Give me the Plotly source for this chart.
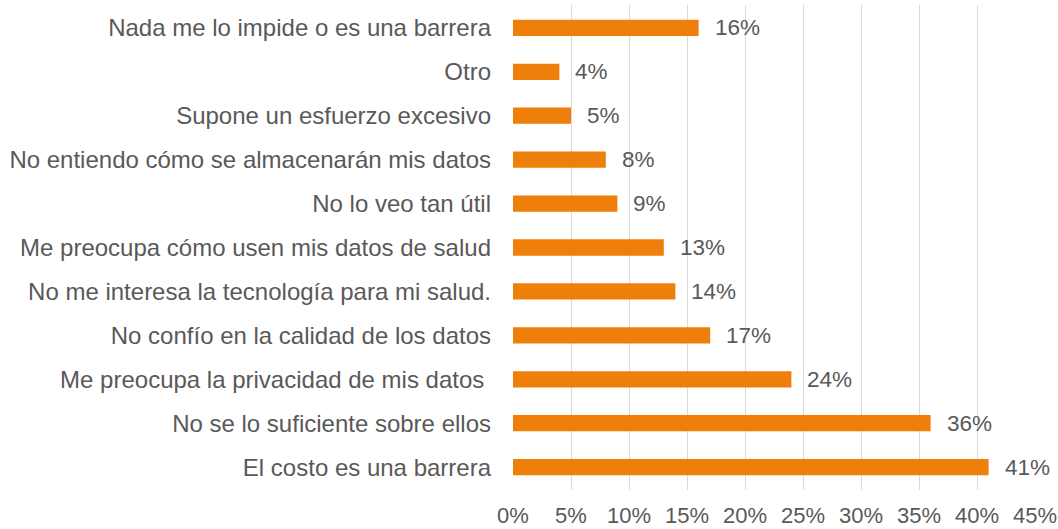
import plotly.graph_objects as go

categories = [
    "El costo es una barrera",
    "No se lo suficiente sobre ellos",
    "Me preocupa la privacidad de mis datos ",
    "No confío en la calidad de los datos",
    "No me interesa la tecnología para mi salud.",
    "Me preocupa cómo usen mis datos de salud",
    "No lo veo tan útil",
    "No entiendo cómo se almacenarán mis datos",
    "Supone un esfuerzo excesivo",
    "Otro",
    "Nada me lo impide o es una barrera",
]
values = [41, 36, 24, 17, 14, 13, 9, 8, 5, 4, 16]
tick_vals = [0, 5, 10, 15, 20, 25, 30, 35, 40, 45]
tick_text = [f"{v}%" for v in tick_vals]

BAR = "#EF7F0B"
TXT = "#595959"
FONT = "Liberation Sans, Arial, sans-serif"

fig = go.Figure()
fig.add_trace(go.Bar(
    x=values, y=categories, orientation="h",
    marker=dict(color=BAR, line=dict(width=0)),
    width=0.37, hoverinfo="skip",
))

for c, v in zip(categories, values):
    fig.add_annotation(x=v, y=c, text=f"{v}%", showarrow=False,
                       xanchor="left", xshift=14,
                       font=dict(family=FONT, size=22.5, color=TXT))

fig.update_layout(
    width=1058, height=529,
    margin=dict(l=513, r=23, t=5, b=39, autoexpand=False),
    paper_bgcolor="white", plot_bgcolor="white",
    showlegend=False,
    font=dict(family=FONT, color=TXT),
)
fig.update_xaxes(
    range=[0, 45], tickvals=tick_vals, ticktext=tick_text,
    showgrid=True, gridcolor="#D9D9D9", gridwidth=1,
    zeroline=False, showline=False,
    tickfont=dict(family=FONT, size=22, color=TXT),
    ticks="", ticklabelstandoff=10,
)
fig.update_yaxes(
    categoryorder="array", categoryarray=categories,
    range=[-0.52, 10.52],
    showgrid=False, zeroline=False, showline=False,
    tickfont=dict(family=FONT, size=24, color=TXT),
    ticks="", ticklabelstandoff=21,
)

fig.write_html("out.html", config={"displayModeBar": False},
               post_script="document.body.style.margin='0';document.body.style.overflow='hidden';")
